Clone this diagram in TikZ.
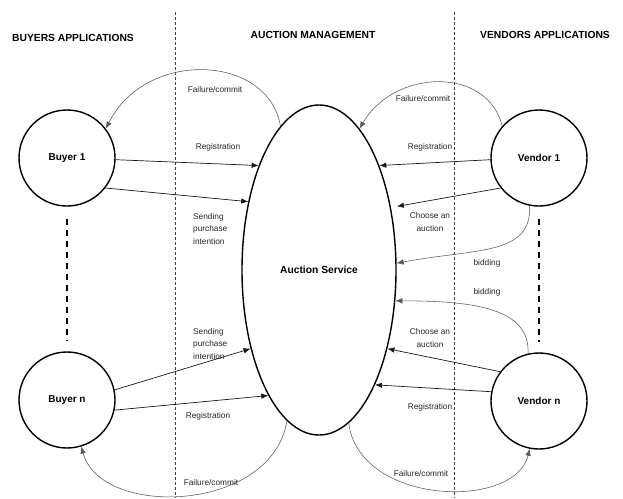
\documentclass[tikz,border=0pt]{standalone}
\usepackage{fontspec}
\setmainfont{Liberation Sans}
\usetikzlibrary{shapes.geometric, arrows.meta, positioning}

\begin{document}
\begin{tikzpicture}[
                x=1pt, y=-1pt,
                header/.style={font=\fontsize{10.3}{12}\selectfont\bfseries, inner sep=0pt},
                actor/.style={circle, draw=black, line width=1.4pt, minimum size=96pt, inner sep=0pt, font=\fontsize{10}{12}\selectfont\bfseries},
                service/.style={ellipse, draw=black, line width=1.4pt, minimum width=154pt, minimum height=330pt, inner sep=0pt, font=\fontsize{10.3}{12}\selectfont\bfseries},
                lbl/.style={font=\fontsize{8.3}{12.5}\selectfont, text=black!85, inner sep=0pt, align=center},
                msg/.style={-{Latex[length=7pt, width=5.5pt]}, black!90, line width=0.7pt},
                reply/.style={-{Latex[length=7pt, width=5.5pt]}, black!65, line width=0.55pt},
                divider/.style={black!75, line width=0.5pt, dash pattern=on 3pt off 2pt},
                gap/.style={black, line width=1.3pt, dash pattern=on 6pt off 5pt}
            ]%
            \path[use as bounding box, fill=white] (0,0) rectangle (623,498);
            %
            % === Zonas ===
            \draw[divider] (175,12) -- (175,498);
            \draw[divider] (454,12) -- (454,498);
            \node[header] (h_buyers) at (73,38) {BUYERS APPLICATIONS};
            \node[header] (h_auction) at (313,35) {AUCTION MANAGEMENT};
            \node[header] (h_vendors) at (545,35) {VENDORS APPLICATIONS};
            %
            % === Nodos ===
            \node[service] (service) at (319,270) {Auction Service};
            \node[actor] (buyer1) at (67,158) {Buyer 1};
            \node[actor] (buyer_n) at (67,400) {Buyer n};
            \node[actor] (vendor1) at (539,158) {Vendor 1};
            \node[actor] (vendor_n) at (539,401) {Vendor n};
            \draw[gap, shorten <=12pt, shorten >=10pt] (buyer1) -- (buyer_n);
            \draw[gap, shorten <=12pt, shorten >=10pt] (vendor1) -- (vendor_n);
            %
            % === Compradores ===
            \draw[reply] (service.105) .. controls +(-12,-72) and +(40,-80) .. (buyer1.37);
            \draw[msg] (buyer1.-2) -- (service.120);
            \draw[msg] (buyer1.-38) -- (service.136);
            \draw[msg] (buyer_n.12) -- (service.229);
            \draw[msg] (buyer_n.-12) -- (service.248);
            \draw[reply] (service.258) .. controls +(-15,92) and +(20,72) .. (buyer_n.287);
            %
            \node[lbl] (fail_b1) at (215,90) {Failure/commit};
            \node[lbl] (reg_b1) at (218,147) {Registration};
            \node[lbl, align=left, anchor=west] (send_b1) at (193,229) {Sending\\purchase\\intention};
            \node[lbl, align=left, anchor=west] (send_bn) at (193,344) {Sending\\purchase\\intention};
            \node[lbl] (reg_bn) at (208,416) {Registration};
            \node[lbl] (fail_bn) at (211,483) {Failure/commit};
            %
            % === Vendedores ===
            \draw[reply] (vendor1.139) .. controls +(-15,-60) and +(35,-60) .. (service.74);
            \draw[msg] (vendor1.182) -- (service.60);
            \draw[msg, shorten >=6pt] (vendor1.218) -- (service.41);
            \draw[reply] (vendor1.259) .. controls +(2,50) and +(80,-15) .. (service.5);
            \draw[reply] (vendor_n.103) .. controls +(2,-45) and +(80,0) .. (service.-22);
            \draw[msg] (vendor_n.143) -- (service.-49);
            \draw[msg] (vendor_n.169) -- (service.-64);
            \draw[reply] (service.-79) .. controls +(10,82) and +(-15,62) .. (vendor_n.259);
            %
            \node[lbl] (fail_v1) at (423,99) {Failure/commit};
            \node[lbl] (reg_v1) at (430,147) {Registration};
            \node[lbl] (choose_v1) at (430,222) {Choose an\\auction};
            \node[lbl] (bid_v1) at (487,263) {bidding};
            \node[lbl] (bid_vn) at (487,292) {bidding};
            \node[lbl] (choose_vn) at (430,338) {Choose an\\auction};
            \node[lbl] (reg_vn) at (430,407) {Registration};
            \node[lbl] (fail_vn) at (421,474) {Failure/commit};
        \end{tikzpicture}
\end{document}
